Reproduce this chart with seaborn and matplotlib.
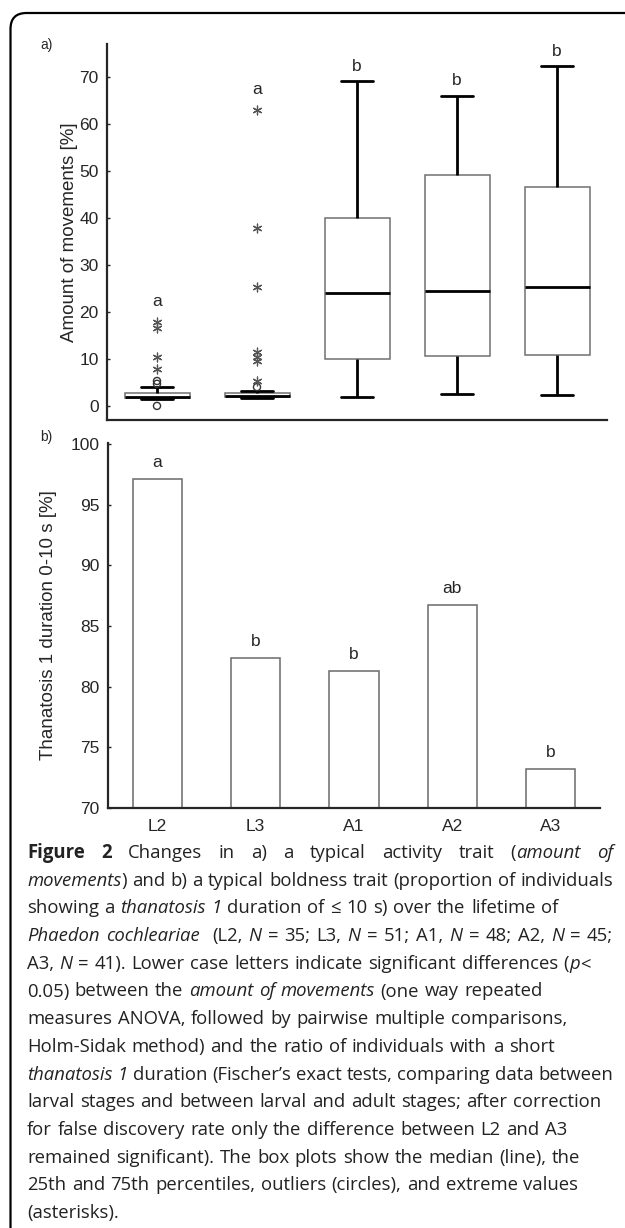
import re
import numpy as np
import pandas as pd
import matplotlib
matplotlib.use("Agg")
import matplotlib.pyplot as plt
import seaborn as sns
from matplotlib.patches import FancyBboxPatch
from matplotlib.font_manager import FontProperties

# ---------------- data ----------------
stages = ["L2", "L3", "A1", "A2", "A3"]
whisker_low = [1.5, 1.7, 1.9, 2.5, 2.3]
quartile_1 = [1.6, 1.85, 10.0, 10.6, 10.9]
medians = [1.8, 2.1, 24.0, 24.5, 25.3]
quartile_3 = [2.8, 2.8, 40.0, 49.1, 46.6]
whisker_high = [4.1, 3.1, 69.1, 66.0, 72.3]
outliers_L2 = [0.0, 4.7, 5.3]
outliers_L3 = [4.0]
extremes_L2 = [17.8, 16.6, 10.5, 7.9]
extremes_L3 = [63.0, 37.9, 25.3, 11.5, 10.5, 9.6, 5.2]
letters_movements = ["a", "a", "b", "b", "b"]

thanatosis_short = [97.1, 82.4, 81.3, 86.7, 73.2]
letters_thanatosis = ["a", "b", "b", "ab", "b"]

caption_lines = [
    "**Figure 2** Changes in a) a typical activity trait (_amount of_",
    "_movements_) and b) a typical boldness trait (proportion of individuals",
    "showing a _thanatosis 1_ duration of \u2264 10 s) over the lifetime of",
    "_Phaedon cochleariae_  (L2, _N_ = 35; L3, _N_ = 51; A1, _N_ = 48; A2, _N_ = 45;",
    "A3, _N_ = 41). Lower case letters indicate significant differences (_p_<",
    "0.05) between the _amount of movements_ (one way repeated",
    "measures ANOVA, followed by pairwise multiple comparisons,",
    "Holm-Sidak method) and the ratio of individuals with a short",
    "_thanatosis 1_ duration (Fischer\u2019s exact tests, comparing data between",
    "larval stages and between larval and adult stages; after correction",
    "for false discovery rate only the difference between L2 and A3",
    "remained significant). The box plots show the median (line), the",
    "25th and 75th percentiles, outliers (circles), and extreme values",
    "(asterisks).",
]
justified = {0, 1, 3, 8}

outliers = {"L2": outliers_L2, "L3": outliers_L3, "A1": [], "A2": [], "A3": []}
extremes = {"L2": extremes_L2, "L3": extremes_L3, "A1": [], "A2": [], "A3": []}

# ---------------- style ----------------
sns.set_style("ticks")
plt.rcParams["font.family"] = ["Liberation Sans", "DejaVu Sans"]

W, H = 625, 1228
fig = plt.figure(figsize=(W / 100, H / 100), dpi=100)


def ax_rect(l, r, t, b):
    return [l / W, 1 - b / H, (r - l) / W, (b - t) / H]


# ---------------- panel a: boxes ----------------
ax1 = fig.add_axes(ax_rect(107, 607, 44, 420))
box_rows = []
for i, s in enumerate(stages):
    for v in (whisker_low[i], quartile_1[i], medians[i], quartile_3[i], whisker_high[i]):
        box_rows.append({"stage": s, "value": v})
df_box = pd.DataFrame(box_rows)

sns.boxplot(data=df_box, x="stage", y="value", order=stages, whis=(0, 100),
            width=0.65, color="white", linecolor="black", linewidth=2.0,
            showfliers=False, ax=ax1,
            boxprops=dict(edgecolor="#707070", linewidth=1.1),
            medianprops=dict(color="black", linewidth=2.0),
            whiskerprops=dict(color="black", linewidth=2.0),
            capprops=dict(color="black", linewidth=2.0))

for i, s in enumerate(stages):
    if outliers[s]:
        ax1.scatter([i] * len(outliers[s]), outliers[s], marker="o", s=26,
                    facecolors="none", edgecolors="#333333", linewidths=1.0, zorder=5)
    if extremes[s]:
        ax1.scatter([i] * len(extremes[s]), extremes[s], marker=(6, 2, 0), s=40,
                    color="#555555", linewidths=0.9, zorder=5)

for i, s in enumerate(stages):
    top = whisker_high[i]
    off = 2.2
    if extremes[s] and max(extremes[s]) > top:
        top = max(extremes[s])
        off = 3.4
    ax1.text(i, top + off, letters_movements[i], ha="center", va="baseline",
             fontsize=12.5)

ax1.set_xlim(-0.5, 4.5)
ax1.set_ylim(-3, 77)
ax1.set_yticks([0, 10, 20, 30, 40, 50, 60, 70])
ax1.set_xticks([])
ax1.set_xlabel("")
ax1.set_ylabel("Amount of movements [%]", fontsize=13.5)
ax1.yaxis.set_label_coords(-0.058, 0.5)
sns.despine(ax=ax1)
ax1.spines["left"].set_linewidth(1.6)
ax1.spines["bottom"].set_linewidth(1.6)
ax1.tick_params(axis="y", direction="in", length=2.5, width=1, pad=6, labelsize=12.5)

# ---------------- panel b: bars ----------------
ax2 = fig.add_axes(ax_rect(108, 600, 443, 808))
sns.barplot(x=stages, y=thanatosis_short, order=stages, color="white",
            saturation=1, edgecolor="#6a6a6a", linewidth=1.1, width=0.5, ax=ax2)
for i, v in enumerate(thanatosis_short):
    ax2.text(i, v + 1.0, letters_thanatosis[i], ha="center", va="baseline",
             fontsize=12.5)
ax2.set_xlim(-0.5, 4.5)
ax2.set_ylim(70, 100.1)
ax2.set_yticks([70, 75, 80, 85, 90, 95, 100])
ax2.set_ylabel("Thanatosis 1 duration 0-10 s [%]", fontsize=13.5)
ax2.yaxis.set_label_coords(-0.104, 0.5)
sns.despine(ax=ax2)
ax2.spines["left"].set_linewidth(1.6)
ax2.spines["bottom"].set_linewidth(1.6)
ax2.tick_params(axis="y", direction="in", length=2.5, width=1, pad=6, labelsize=12.5)
ax2.tick_params(axis="x", direction="in", length=2, width=1, pad=8, labelsize=12.5)

fig.text(40 / W, 1 - 45 / H, "a)", fontsize=10, va="center", ha="left")
fig.text(40 / W, 1 - 437 / H, "b)", fontsize=10, va="center", ha="left")

# ---------------- frame ----------------
frame = FancyBboxPatch((10.5, -20), 640, H - 13 + 20, boxstyle="round,pad=0,rounding_size=16",
                       transform=None, facecolor="none", edgecolor="black", linewidth=1.6)
fig.add_artist(frame)

# ---------------- caption ----------------
fig.canvas.draw()
renderer = fig.canvas.get_renderer()
CAP_FAM = ["Open Sans", "DejaVu Sans"]


def fprop(style, size):
    it, bd = style
    return FontProperties(family=CAP_FAM, style="italic" if it else "normal",
                          weight="bold" if bd else "normal", size=size)


def parse(line):
    chars = []
    it = bd = False
    i = 0
    while i < len(line):
        if line.startswith("**", i):
            bd = not bd
            i += 2
            continue
        if line[i] == "_":
            it = not it
            i += 1
            continue
        chars.append((line[i], (it, bd)))
        i += 1
    tokens = []
    cur = []
    for ch, st in chars:
        if ch == " ":
            if cur:
                tokens.append(("word", cur))
                cur = []
            tokens.append(("space", None))
        else:
            if cur and cur[-1][1] == st:
                cur[-1] = (cur[-1][0] + ch, st)
            else:
                cur.append((ch, st))
    if cur:
        tokens.append(("word", cur))
    return tokens


def width(s, style, size):
    w, h, d = renderer.get_text_width_height_descent(s, fprop(style, size), ismath=False)
    return w


def space_w(size):
    meas = width("a a", (False, False), size) - 2 * width("a", (False, False), size)
    return max(meas, 0.30 * size * 100 / 72)


def natural(tokens, size):
    tot = 0
    for kind, runs in tokens:
        if kind == "word":
            tot += sum(width(t, st, size) for t, st in runs)
        else:
            tot += space_w(size)
    return tot


ref_tokens = parse(caption_lines[2])
cap_size = 10 * 532 / natural(ref_tokens, 10)

x_left, x_right = 27, 613
y0, dy = 858, 27.7
for k, line in enumerate(caption_lines):
    tokens = parse(line)
    sw = space_w(cap_size)
    nspace = sum(1 for kd, _ in tokens if kd == "space")
    words_w = natural(tokens, cap_size) - nspace * sw
    if k in justified and nspace:
        sw2 = (x_right - x_left - words_w) / nspace
        if sw2 > sw * 0.8:
            sw = sw2
    x = x_left
    yb = y0 + k * dy
    for kind, runs in tokens:
        if kind == "space":
            x += sw
            continue
        for t, st in runs:
            fig.text(x / W, 1 - yb / H, t, fontproperties=fprop(st, cap_size),
                     ha="left", va="baseline", color="#222222")
            x += width(t, st, cap_size)

fig.savefig("out.png", dpi=100)
